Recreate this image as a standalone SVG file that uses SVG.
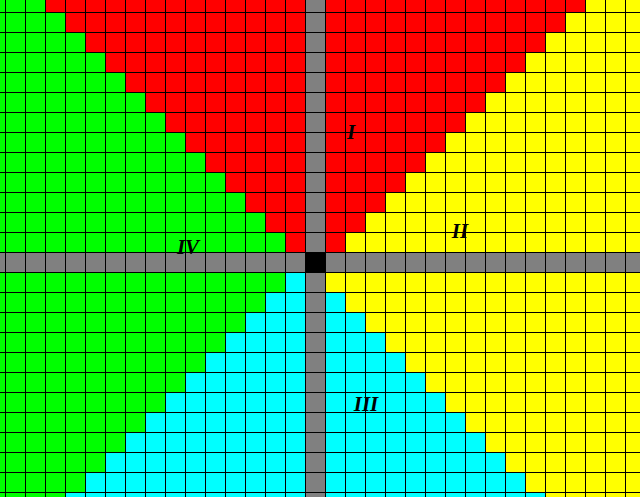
<svg xmlns="http://www.w3.org/2000/svg" width="640" height="497" viewBox="0 0 640 497">
<style>
.lbl{font-family:"Liberation Serif","Times New Roman",serif;font-style:italic;font-weight:bold;font-size:21px;fill:#000;text-anchor:middle}
.grid{stroke:#000;stroke-width:1;fill:none;shape-rendering:crispEdges}
</style>
<g id="regions" shape-rendering="crispEdges">
<rect id="quadrant-IV" x="0" y="0" width="315" height="497" fill="#00ff00"/>
<rect id="quadrant-II" x="315" y="0" width="325" height="497" fill="#ffff00"/>
<polygon id="quadrant-I" fill="#ff0000" points="285,252 285,232 265,232 265,212 245,212 245,192 225,192 225,172 205,172 205,152 185,152 185,132 165,132 165,112 145,112 145,92 125,92 125,72 105,72 105,52 85,52 85,32 65,32 65,12 45,12 45,-8 585,-8 585,12 565,12 565,32 545,32 545,52 525,52 525,72 505,72 505,92 485,92 485,112 465,112 465,132 445,132 445,152 425,152 425,172 405,172 405,192 385,192 385,212 365,212 365,232 345,232 345,252"/>
<polygon id="quadrant-III" fill="#00ffff" points="285,272 285,292 265,292 265,312 245,312 245,332 225,332 225,352 205,352 205,372 185,372 185,392 165,392 165,412 145,412 145,432 125,432 125,452 105,452 105,472 85,472 85,492 65,492 65,512 545,512 545,492 525,492 525,472 505,472 505,452 485,452 485,432 465,432 465,412 445,412 445,392 425,392 425,372 405,372 405,352 385,352 385,332 365,332 365,312 345,312 345,292 325,292 325,272"/>
<rect id="axis-y" x="305" y="0" width="20" height="497" fill="#808080"/>
<rect id="axis-x" x="0" y="252" width="640" height="20" fill="#808080"/>
<rect id="origin" x="305" y="252" width="20" height="20" fill="#000"/>
</g>
<path class="grid" d="M5.5 0V497M25.5 0V497M45.5 0V497M65.5 0V497M85.5 0V497M105.5 0V497M125.5 0V497M145.5 0V497M165.5 0V497M185.5 0V497M205.5 0V497M225.5 0V497M245.5 0V497M265.5 0V497M285.5 0V497M305.5 0V497M325.5 0V497M345.5 0V497M365.5 0V497M385.5 0V497M405.5 0V497M425.5 0V497M445.5 0V497M465.5 0V497M485.5 0V497M505.5 0V497M525.5 0V497M545.5 0V497M565.5 0V497M585.5 0V497M605.5 0V497M625.5 0V497M0 12.5H640M0 32.5H640M0 52.5H640M0 72.5H640M0 92.5H640M0 112.5H640M0 132.5H640M0 152.5H640M0 172.5H640M0 192.5H640M0 212.5H640M0 232.5H640M0 252.5H640M0 272.5H640M0 292.5H640M0 312.5H640M0 332.5H640M0 352.5H640M0 372.5H640M0 392.5H640M0 412.5H640M0 432.5H640M0 452.5H640M0 472.5H640M0 492.5H640"/>
<g id="labels">
<text class="lbl" x="351" y="139">I</text>
<text class="lbl" x="460" y="238">II</text>
<text class="lbl" x="366" y="411">III</text>
<text class="lbl" x="188" y="254">IV</text>
</g>
</svg>
